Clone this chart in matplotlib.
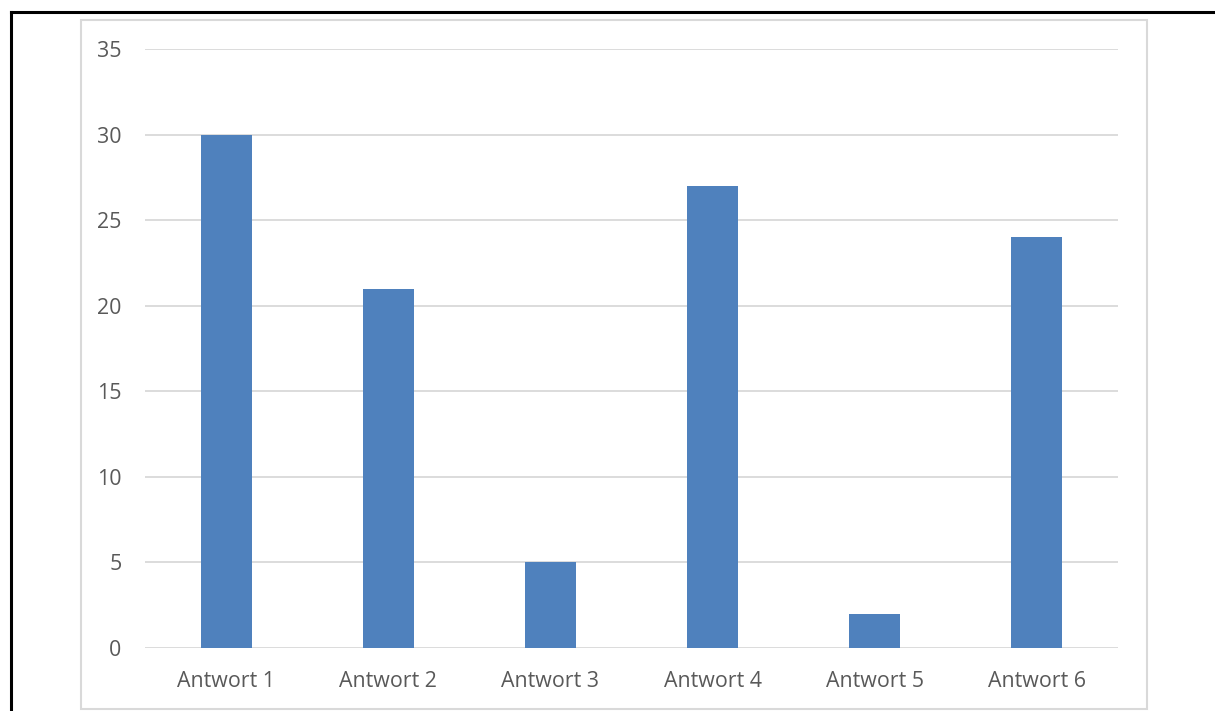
import matplotlib
matplotlib.use("Agg")
import matplotlib.pyplot as plt
from matplotlib.lines import Line2D
from matplotlib.patches import Rectangle

# Survey answers and counts
categories = ["Antwort 1", "Antwort 2", "Antwort 3", "Antwort 4", "Antwort 5", "Antwort 6"]
counts = [30, 21, 5, 27, 2, 24]
y_ticks = [0, 5, 10, 15, 20, 25, 30, 35]

W, H = 1215, 711
fig = plt.figure(figsize=(W / 100, H / 100), dpi=100)
fig.patch.set_facecolor("white")

plt.rcParams["font.family"] = ["Open Sans", "DejaVu Sans"]

# --------------------------
# Outer page frame (top and left)
# --------------------------
fig.add_artist(Line2D([11 / W, 1.0], [1 - 12 / H, 1 - 12 / H],
                      transform=fig.transFigure, color="black", linewidth=2.2))
fig.add_artist(Line2D([11 / W, 11 / W], [0.0, 1 - 12 / H],
                      transform=fig.transFigure, color="black", linewidth=2.2))

# --------------------------
# Chart area border
# --------------------------
fig.add_artist(Rectangle((81 / W, 1 - 709 / H), (1147 - 81) / W, (709 - 20) / H,
                         transform=fig.transFigure, fill=False,
                         edgecolor="#d9d9d9", linewidth=1.5))

# --------------------------
# Plot area
# --------------------------
left, right = 145 / W, 1118 / W
bottom, top = 1 - 648 / H, 1 - 49 / H
ax = fig.add_axes([left, bottom, right - left, top - bottom])

x = range(len(categories))
ax.bar(x, counts, width=0.315, color="#4f81bd", zorder=3)

ax.set_xlim(-0.5, len(categories) - 0.5)
ax.set_ylim(0, 35)
ax.set_yticks(y_ticks)
ax.set_xticks(list(x))
ax.set_xticklabels(categories)

for t in y_ticks:
    ax.axhline(t, color="#d9d9d9", linewidth=1.3, zorder=1)

for side in ["top", "right", "left", "bottom"]:
    ax.spines[side].set_visible(False)

ax.tick_params(axis="both", length=0, labelsize=15.4, colors="#595959")
ax.tick_params(axis="y", pad=17)
ax.tick_params(axis="x", pad=16.5)

fig.savefig("out.png", dpi=100, facecolor="white")
